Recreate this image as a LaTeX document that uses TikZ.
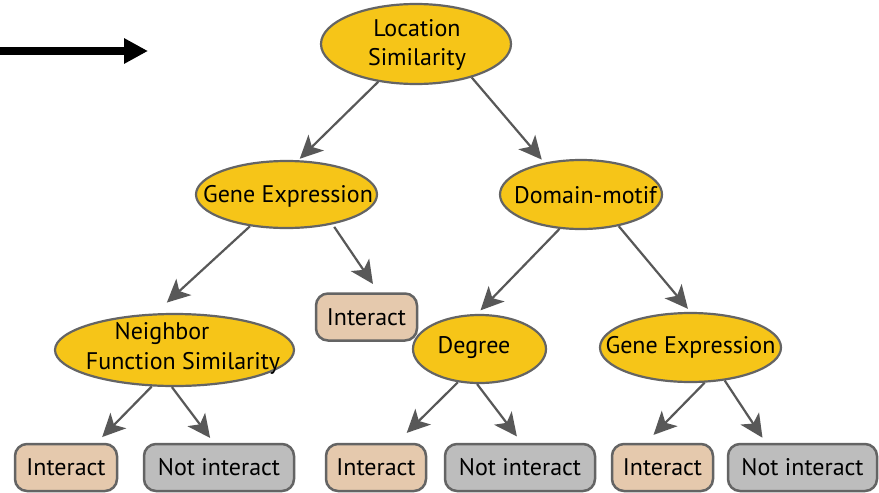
\documentclass[tikz,border=0pt]{standalone}
\usepackage{fontspec}
\setmainfont{PT Sans}
\usetikzlibrary{shapes.geometric,arrows.meta}
\definecolor{gold}{RGB}{246,197,24}
\definecolor{edgegray}{RGB}{100,100,100}
\definecolor{arrgray}{RGB}{88,88,88}
\definecolor{tanfill}{RGB}{229,201,173}
\definecolor{greyfill}{RGB}{189,189,189}
\tikzset{
  dec/.style={ellipse, draw=edgegray, line width=2.2pt, fill=gold, inner sep=0pt},
  leafbase/.style={rectangle, rounded corners=12pt, draw=edgegray, line width=2.5pt, inner sep=0pt, minimum height=47pt, font=\fontsize{24}{28}\selectfont},
  leafyes/.style={leafbase, fill=tanfill},
  leafno/.style={leafbase, fill=greyfill},
  lbl/.style={font=\fontsize{24}{29}\selectfont, inner sep=0pt},
  conn/.style={draw=arrgray, line width=2.2pt, -{Stealth[length=23pt,width=22pt,inset=6pt]}}
}
\begin{document}
\begin{tikzpicture}[x=1pt,y=-1pt]
\useasboundingbox[fill=white] (0,0) rectangle (879,493);

% decision nodes
\node[dec, minimum width=190pt, minimum height=80pt,
  label={[lbl,align=center,yshift=-1pt,xshift=1pt]center:{Location\\Similarity}}] (loc) at (416,44) {};
\node[dec, minimum width=181pt, minimum height=67pt,
  label={[lbl,text height=16pt,text depth=0pt,xshift=1.5pt]center:Gene Expression}] (ge1) at (286.5,194.5) {};
\node[dec, minimum width=162pt, minimum height=69pt,
  label={[lbl,text height=16pt,text depth=0pt,xshift=4.5pt,yshift=-1pt]center:Domain-motif}] (dm) at (581,194.5) {};
\node[dec, minimum width=239pt, minimum height=72pt,
  label={[lbl,align=center,xshift=8.5pt,yshift=2pt,font=\fontsize{24}{30}\selectfont]center:{Neighbor\hspace*{42pt}\\Function Similarity}}] (nfs) at (174.5,350) {};
\node[dec, minimum width=133pt, minimum height=68pt,
  label={[lbl,text height=16pt,text depth=0pt,xshift=-5.5pt,yshift=4pt]center:Degree}] (deg) at (479.5,349) {};
\node[dec, minimum width=181pt, minimum height=69pt,
  label={[lbl,text height=16pt,text depth=0pt,yshift=2pt]center:Gene Expression}] (ge2) at (690.5,347.5) {};

% leaves
\node[leafyes, minimum width=101pt] (int0) at (366.5,317) {Interact};
\node[leafyes, minimum width=102pt] (i1) at (66,467.5) {Interact};
\node[leafno, minimum width=150pt] (n1) at (219,467.5) {Not interact};
\node[leafyes, minimum width=100pt] (i2) at (376,467.5) {Interact};
\node[leafno, minimum width=150pt] (n2) at (520,467.5) {Not interact};
\node[leafyes, minimum width=101pt] (i3) at (662.5,467.5) {Interact};
\node[leafno, minimum width=149pt] (n3) at (802.5,467.5) {Not interact};

% black pointer arrow
\coordinate (p0) at (0,51);
\coordinate (p1) at (148,51);
\draw[line width=7.5pt, -{Triangle[length=24pt,width=24pt]}] (p0) -- (p1);

% connectors
\draw[conn, shorten >=2pt] (loc.225) -- (ge1.71);
\draw[conn, shorten >=4pt] (loc.329) -- (dm.139);
\draw[conn, shorten >=16pt] (ge1.221) -- (nfs.118);
\draw[conn, shorten <=3pt, shorten >=10pt] (ge1.327) -- (int0.64);
\draw[conn, shorten >=5pt] (dm.238) -- (deg.94);
\draw[conn, shorten >=4pt] (dm.320) -- (ge2.90);
\draw[conn, shorten >=8pt] (nfs.238) -- (i1.39);
\draw[conn, shorten >=6pt] (nfs.266) -- (n1.102);
\draw[conn, shorten >=14pt] (deg.237) -- (i2.50);
\draw[conn, shorten >=8pt] (deg.266) -- (n2.86);
\draw[conn, shorten >=11pt] (ge2.292) -- (i3.124);
\draw[conn, shorten >=6pt] (ge2.316) -- (n3.146);
\end{tikzpicture}
\end{document}
